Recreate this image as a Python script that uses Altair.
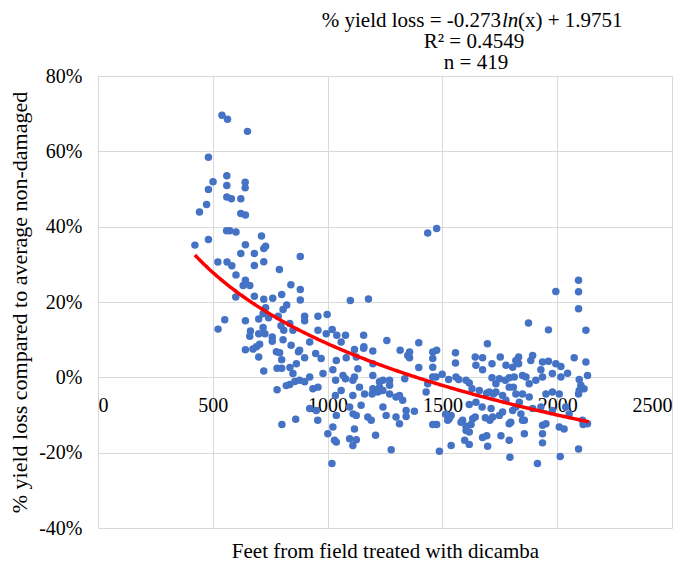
import altair as alt
import pandas as pd

# ---- data (feet, % yield loss) ----
FEET = [
    540, 564, 651, 481, 561, 501, 561, 641, 641, 481, 561, 581, 622, 473, 442, 622, 642,
    560, 574, 601, 712, 422, 481, 642, 730, 722, 622, 681, 881, 522, 562, 583, 681, 722,
    601, 790, 642, 632, 661, 840, 881, 600, 681, 722, 761, 881, 1099, 1178,
    800, 822, 730, 806, 552, 523, 642, 700, 719, 743, 785, 719, 664, 700, 727, 759, 809,
    797, 849, 661, 806, 759, 704, 690, 642, 675, 841, 777, 700, 791, 873, 800, 864, 780,
    800, 836, 722, 849, 835, 820, 780, 857, 861, 801,
    900, 958, 998, 900, 835, 958, 994, 1020, 1040, 1078, 1059, 1157, 922, 1258, 1117, 1157,
    1197, 1316, 1349, 878, 948, 972, 900, 1038, 1081, 1132, 1023, 1197, 980, 922, 878, 1035,
    1078, 1110, 1139, 958, 936, 1059, 1110, 1161, 1197, 1219, 1241, 1270, 1226, 1270, 1298,
    1327, 1146, 1096, 1241, 1298, 1342, 922, 951, 1038, 1175, 1190, 1125, 1023, 1117, 1313,
    1001, 1096, 1125, 1209, 1038, 1110, 1277, 1019,
    1397, 1357, 1357, 1458, 1475, 1458, 1397, 1458, 1557, 1557, 1643, 1675, 1696, 1646, 1675,
    1716, 1752, 1777, 1820, 1336, 1313, 1436, 1458, 1499, 1527, 1559, 1571, 1617, 1629, 1661,
    1716, 1733, 1748, 1774, 1791, 1809, 1762, 1722, 1693, 1777, 1646, 1617, 1673, 1712, 1378,
    1538, 1523, 1458, 1475, 1588, 1603, 1625, 1617, 1643, 1687, 1707, 1748, 1791, 1675, 1693,
    1697, 1597, 1617, 1755, 1791, 1538, 1487, 1794,
    1436, 1475, 1832, 1832, 1875, 1806, 1125, 1158, 1067, 1117, 1197, 1241, 1226, 1270, 1194,
    1429, 1472, 1603, 1704, 1733, 1791, 1820, 1849, 1864, 1878, 1342, 1530, 1581, 1603, 1632,
    1857, 1719, 1762, 1806, 1842, 1857, 1030,
    1994, 2093, 2093, 2093, 2125, 1962, 1827, 1893, 1885, 1936, 1962, 1994, 2016, 2074, 2125,
    2045, 2132, 1929, 1979, 2016, 1813, 1849, 1907, 1936, 2096, 2103, 1878, 1835, 1951, 1979,
    2009, 2096, 2117, 1820, 1893, 1929, 1979, 2037, 2052, 2110, 2132, 1798, 1849, 1936, 1951,
    2009, 2030, 1936, 1936, 2093, 2013, 1914, 2093, 2113,
    1514, 1255, 1111, 957, 900, 1034,
]
LOSS_PCT = [
    69.6, 68.5, 65.3, 58.4, 53.5, 51.9, 50.9, 51.8, 50.3, 49.9, 47.9, 47.4, 47.4, 45.9, 43.9, 43.5, 43.1,
    38.9, 38.9, 38.6, 37.5, 35.1, 36.6, 35.2, 34.8, 34.2, 32.9, 32.9, 32.1, 30.6, 30.6, 29.6, 29.7, 30.7,
    27.2, 28.6, 25.8, 24.4, 24.4, 24.6, 23.3, 21.3, 21.5, 20.7, 21.0, 20.5, 20.4, 20.8,
    22.0, 19.2, 18.5, 18.0, 15.3, 12.8, 15.0, 15.5, 16.9, 15.8, 16.2, 13.2, 12.3, 11.6, 11.6, 10.7, 12.5,
    13.7, 12.5, 10.9, 10.0, 9.6, 8.8, 8.1, 7.3, 7.5, 8.5, 6.8, 5.4, 6.5, 6.8, 4.7, 3.6, 2.4,
    2.4, 2.6, 1.7, 1.0, -1.9, -2.2, -3.3, -1.1, -11.1, -12.5,
    16.2, 16.2, 16.7, 15.0, 14.3, 12.5, 11.6, 12.7, 11.2, 11.2, 9.4, 11.2, 9.4, 9.8, 7.4, 7.7,
    7.0, 7.2, 5.8, 7.2, 6.3, 5.0, 5.2, 4.5, 5.2, 2.3, 2.0, 3.6, 1.0, 0.1, -0.8, -0.8,
    -0.4, -0.8, -2.6, -2.6, -3.0, -3.5, -4.8, -4.4, -3.0, -3.9, -3.5, -0.8, -1.2, -4.4, -5.2,
    -6.1, -7.4, -7.9, -7.9, -10.5, -10.4, -8.3, -8.8, -10.1, -10.5, -11.4, -10.1, -13.2, -13.7, -12.3,
    -15.0, -16.3, -16.6, -15.4, -17.2, -18.1, -19.2, -22.9,
    9.2, 6.7, 5.2, 6.7, 7.2, 5.0, 2.6, 2.7, 6.5, 3.8, 5.4, 5.2, 8.9, 3.2, 2.0,
    3.6, 5.4, 3.2, 4.5, -0.4, -4.8, -1.7, 0.1, 0.8, -0.6, 0.1, -0.6, -1.5, -3.0, -3.5,
    -0.1, -1.7, -0.4, -0.8, -0.1, -2.6, -4.8, -4.4, -4.2, -6.1, -6.6, -7.2, -7.9, -8.3, -9.0,
    -10.1, -11.4, -12.5, -12.5, -11.4, -13.0, -12.5, -14.5, -10.5, -10.7, -11.4, -10.1, -12.3, -16.0, -15.5,
    -18.3, -16.7, -17.8, -15.5, -16.7, -18.1, -19.6, -21.2,
    38.3, 39.5, 5.4, 3.6, 14.4, 2.7, 5.4, 8.1, 0.5, 0.1, 0.5, -0.8, -2.6, -2.1, -4.4,
    -3.9, 0.1, -0.8, -3.9, -3.9, -2.6, -4.4, -4.4, 0.1, -1.7, -8.8, -11.0, -11.9, -14.1, -11.0,
    -15.0, -10.5, -9.2, -8.8, -9.7, -11.4, -16.7,
    22.8, 25.8, 22.7, 18.2, 12.5, 12.6, 4.1, 5.8, 4.5, 4.1, 4.3, 3.6, 2.9, 5.2, 4.1,
    1.1, 0.5, 2.0, 1.0, 0.1, 0.1, 0.5, -0.8, 0.1, -0.6, -2.1, -5.2, -6.6, -4.4, -3.9,
    -4.4, -3.5, -3.0, -7.9, -8.3, -7.9, -8.8, -7.9, -9.7, -11.4, -12.3, -11.9, -11.4, -12.7, -12.3,
    -13.2, -13.7, -15.0, -17.4, -19.0, -21.0, -22.9, -4.4, -12.5,
    -9.8, -10.1, -9.7, -11.4, -1.2, -4.8,
]

X_TICKS = [0, 500, 1000, 1500, 2000, 2500]
Y_TICKS = [-0.4, -0.2, 0.0, 0.2, 0.4, 0.6, 0.8]

# trend line given on the chart: % yield loss = -0.273 ln(x) + 1.9751
TREND_A = -0.273
TREND_B = 1.9751
TREND_X_MIN = 422
TREND_X_MAX = 2140

EQ_PREFIX = "% yield loss = -0.273"
EQ_LN = "ln"
EQ_SUFFIX = "(x) + 1.9751"
R2_TEXT = "R\u00b2 = 0.4549"
N_TEXT = "n = 419"
X_TITLE = "Feet from field treated with dicamba"
Y_TITLE = "% yield loss compared to average non-damaged"

df = pd.DataFrame({"feet": FEET, "loss": [v / 100 for v in LOSS_PCT]})

W, H = 574, 452
FONT = "Liberation Serif"
GRID = "#d9d9d9"

x_scale = alt.Scale(domain=[0, 2500], nice=False)
y_scale = alt.Scale(domain=[-0.4, 0.8], nice=False)

x_axis = alt.Axis(
    values=X_TICKS, grid=True, gridColor=GRID, gridWidth=1, domain=False, ticks=False,
    labelPadding=-133, labelFont=FONT, labelFontSize=20, labelColor="#000000",
    labelExpr="datum.value + ''",
    title=X_TITLE, titleFont=FONT, titleFontSize=21, titleFontWeight="normal",
    titleColor="#000000", titleX=W / 2, titleY=29, titleBaseline="alphabetic",
    titleAlign="center",
)
y_axis = alt.Axis(
    values=Y_TICKS, grid=True, gridColor=GRID, gridWidth=1, domain=False, ticks=False,
    labelPadding=16, labelFont=FONT, labelFontSize=20, labelColor="#000000",
    labelExpr="round(datum.value * 100) + '%'",
    title=Y_TITLE, titleFont=FONT, titleFontSize=22, titleFontWeight="normal",
    titleColor="#000000", titleX=-79, titleY=H / 2, titleAngle=270,
    titleAlign="center", titleBaseline="middle",
)

points = alt.Chart(df).mark_circle(size=56, color="#4472C4", opacity=1).encode(
    x=alt.X("feet:Q", scale=x_scale, axis=x_axis),
    y=alt.Y("loss:Q", scale=y_scale, axis=y_axis),
)

trend = (
    alt.Chart(alt.sequence(TREND_X_MIN, TREND_X_MAX + 1, 6, as_="feet"))
    .transform_calculate(loss=f"{TREND_A} * log(datum.feet) + {TREND_B}")
    .mark_line(color="#FF0000", strokeWidth=3.5)
    .encode(x=alt.X("feet:Q", scale=x_scale),
            y=alt.Y("loss:Q", scale=y_scale))
)


def label(txt, x, y, align="center", style="normal"):
    return alt.Chart(pd.DataFrame({"t": [txt]})).mark_text(
        font=FONT, fontSize=21, align=align, baseline="middle", color="#000000",
        fontStyle=style,
    ).encode(x=alt.value(x), y=alt.value(y), text="t:N")


LN_X = 403
texts = [
    label(EQ_PREFIX, LN_X, -55, align="right"),
    label(EQ_LN, LN_X + 1, -55, align="left", style="italic"),
    label(EQ_SUFFIX, LN_X + 17, -55, align="left"),
    label(R2_TEXT, 376, -34),
    label(N_TEXT, 378, -13),
]

chart = (
    alt.layer(points, trend, *texts)
    .properties(
        width=W, height=H,
        autosize=alt.AutoSizeParams(type="none"),
        padding={"left": 90, "top": 68, "right": 13, "bottom": 36},
    )
    .configure_view(strokeWidth=0)
)

chart.save("out.html", embed_options={"renderer": "svg", "actions": False})
